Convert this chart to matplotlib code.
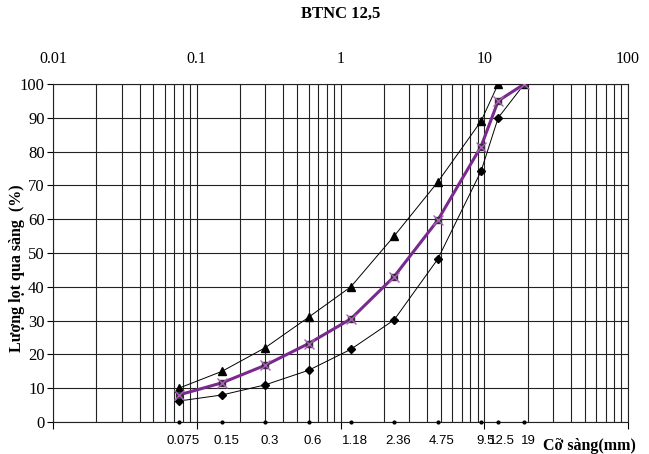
import matplotlib
matplotlib.use('Agg')
import matplotlib.pyplot as plt
from matplotlib.ticker import LogLocator, NullFormatter, FixedLocator

# sieve sizes (mm) and passing percentages
sieves = [0.075, 0.15, 0.3, 0.6, 1.18, 2.36, 4.75, 9.5, 12.5, 19]
sieve_labels = ['0.075', '0.15', '0.3', '0.6', '1.18', '2.36', '4.75', '9.5', '12.5', '19']
upper = [10, 15, 22, 31, 40, 55, 71, 89, 100, 100]
mix = [8, 11.6, 16.8, 23.2, 30.5, 43, 59.7, 81.5, 95, 100]
lower = [6.2, 8, 11, 15.3, 21.5, 30.2, 48.2, 74.2, 90, 100]
baseline = [0] * len(sieves)
top_ticks = [0.01, 0.1, 1, 10, 100]
top_labels = ['0.01', '0.1', '1', '10', '100']

serif = 'Liberation Serif'

fig = plt.figure(figsize=(6.49, 4.54), dpi=100)
ax = fig.add_axes([53 / 649, 1 - 422 / 454, 575 / 649, 338 / 454])

ax.set_xscale('log')
ax.set_xlim(0.01, 100)
ax.set_ylim(0, 100)

# grid: log decades with all minor lines, horizontal every 10
ax.xaxis.set_major_locator(FixedLocator(top_ticks))
ax.xaxis.set_minor_locator(LogLocator(base=10, subs=range(2, 10), numticks=20))
ax.xaxis.set_minor_formatter(NullFormatter())
ax.set_yticks(range(0, 101, 10))
ax.grid(True, which='both', axis='x', color='#222222', lw=0.8)
ax.grid(True, which='major', axis='y', color='#222222', lw=0.8)
ax.set_axisbelow(True)

ax.plot(sieves, upper, color='black', lw=0.7, marker='^', ms=6, zorder=3)
ax.plot(sieves, lower, color='black', lw=0.7, marker='D', ms=4.5, zorder=3)
ax.plot(sieves, mix, color='#7a2a8f', lw=2.2, marker='s', ms=4,
        mfc='#333333', mec='#333333', zorder=4)
ax.plot(sieves, mix, ls='none', marker='x', ms=7, mew=1, color='#b05cc0', zorder=5)
ax.plot(sieves, baseline, ls='none', marker='o', ms=2, color='black', zorder=5,
        clip_on=False)

# bottom: major ticks only, no labels
ax.tick_params(axis='x', which='major', direction='out', length=5, width=0.8,
               labelbottom=False, top=False)
ax.tick_params(axis='x', which='minor', length=0)
ax.tick_params(axis='y', direction='out', length=4, width=0.8, pad=2)
for lab in ax.get_yticklabels():
    lab.set_fontfamily(serif)
    lab.set_fontsize(12)

for side in ['left', 'right', 'top', 'bottom']:
    ax.spines[side].set_color('#222222')
    ax.spines[side].set_linewidth(0.8)

# top decade labels
sec = ax.secondary_xaxis('top')
sec.set_xticks(top_ticks)
sec.set_xticklabels(top_labels, fontfamily=serif, fontsize=11.5)
sec.xaxis.set_minor_locator(FixedLocator([]))
sec.tick_params(axis='x', length=0, pad=12)
sec.spines['top'].set_visible(False)

# sieve size labels under the axis
for s, lab in zip(sieves, sieve_labels):
    ax.annotate(lab, xy=(s, 0), xytext=(3, -9), textcoords='offset points',
                ha='center', va='top', fontsize=9.5, family='Liberation Sans',
                annotation_clip=False)

fig.text(543 / 649, 1 - 438 / 454, 'Cỡ sàng(mm)', ha='left', va='top',
         fontfamily=serif, fontweight='bold', fontsize=11.5)

fig.text(17 / 649, 1 - 268 / 454, 'Lượng lọt qua sàng  (%)', rotation=90,
         ha='center', va='center', fontfamily=serif, fontweight='bold', fontsize=11.5)

fig.text(341 / 649, 1 - 14 / 454, 'BTNC 12,5', ha='center', va='center',
         fontfamily=serif, fontweight='bold', fontsize=12)

fig.savefig('out.png', dpi=100)
